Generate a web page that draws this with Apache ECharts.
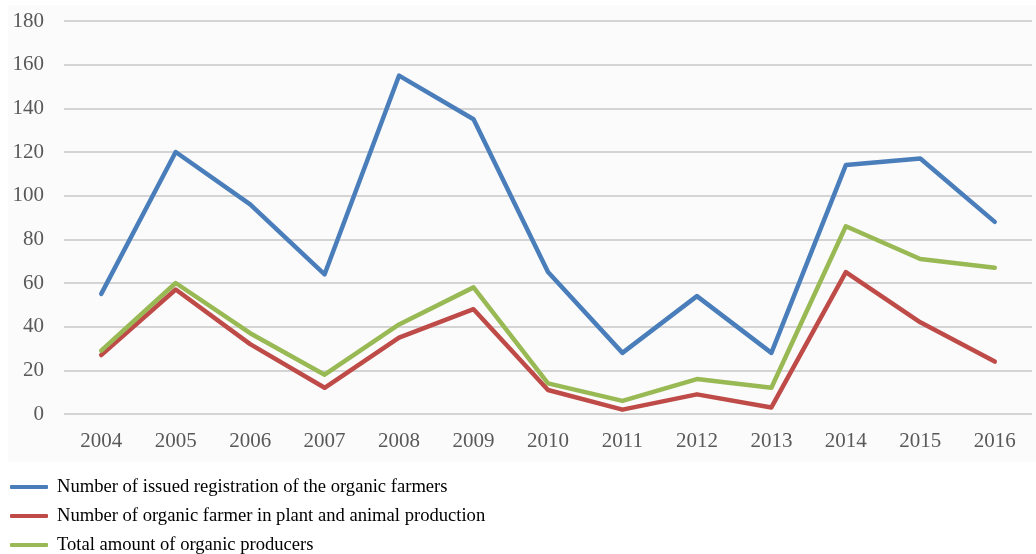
<!DOCTYPE html>
<html>
<head>
<meta charset="utf-8">
<script src="https://cdn.jsdelivr.net/npm/echarts@6/dist/echarts.min.js"></script>
<style>
html,body{margin:0;padding:0;background:#ffffff;}
#main{width:1036px;height:554px;}
</style>
</head>
<body>
<div id="main"></div>
<script>
const categories = ['2004','2005','2006','2007','2008','2009','2010','2011','2012','2013','2014','2015','2016'];
const seriesNames = [
  'Number of issued registration of the organic farmers',
  'Number of organic farmer in plant and animal production',
  'Total amount of organic producers'
];
const issuedRegistrations = [55, 120, 96, 64, 155, 135, 65, 28, 54, 28, 114, 117, 88];
const plantAnimalFarmers = [27, 57, 32, 12, 35, 48, 11, 2, 9, 3, 65, 42, 24];
const totalProducers = [29, 60, 37, 18, 41, 58, 14, 6, 16, 12, 86, 71, 67];
const yTicks = [0, 20, 40, 60, 80, 100, 120, 140, 160, 180];

const colors = ['#4a7ebb', '#be4b48', '#98b954'];
const serif = '"Liberation Serif", "Times New Roman", serif';

const chart = echarts.init(document.getElementById('main'), null, {renderer: 'canvas'});
const dataSets = [issuedRegistrations, plantAnimalFarmers, totalProducers];
chart.setOption({
  animation: false,
  backgroundColor: '#ffffff',
  graphic: [{
    type: 'rect', z: -10, silent: true,
    shape: {x: 8, y: 5, width: 1028, height: 457},
    style: {fill: '#fbfbfb'}
  }],
  grid: {left: 64, right: 4, top: 21, bottom: 140, containLabel: false},
  legend: {
    orient: 'vertical', left: 10, top: 477, height: 150,
    itemWidth: 38, itemHeight: 4, itemGap: 9, padding: 0,
    icon: 'roundRect',
    textStyle: {fontFamily: serif, fontSize: 18.6, lineHeight: 20, color: '#000000', padding: [0, 0, 0, 4]},
    data: seriesNames
  },
  xAxis: {
    type: 'category', data: categories, boundaryGap: true,
    axisLine: {show: false}, axisTick: {show: false},
    axisLabel: {fontFamily: serif, fontSize: 21, color: '#595959', margin: 17}
  },
  yAxis: {
    type: 'value', min: yTicks[0], max: yTicks[yTicks.length-1], interval: 20,
    axisLine: {show: false}, axisTick: {show: false},
    axisLabel: {fontFamily: serif, fontSize: 21, color: '#595959', margin: 20},
    splitLine: {lineStyle: {color: '#d4d4d4', width: 2}}
  },
  series: seriesNames.map((n, i) => ({
    name: n, type: 'line', data: dataSets[i], symbol: 'none',
    color: colors[i],
    lineStyle: {width: 4.5, color: colors[i], cap: 'round', join: 'round'}
  }))
});
</script>
</body>
</html>
